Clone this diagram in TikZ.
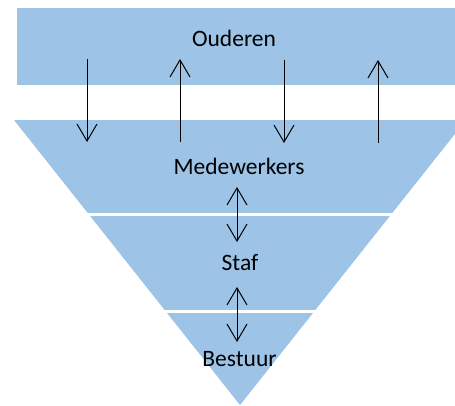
\documentclass[tikz,border=0pt]{standalone}
\usepackage{fontspec}
\setmainfont{Carlito}
\usetikzlibrary{arrows.meta}
\definecolor{laagblauw}{RGB}{157,195,230}

\begin{document}
\begin{tikzpicture}[x=1pt,y=-1pt,line width=1pt]
		\tikzstyle{laag}=[fill=laagblauw,draw=none]
		\tikzstyle{naam}=[anchor=base,inner sep=0pt,font=\fontsize{23.5}{28}\selectfont]
		\tikzstyle{pijl}=[-{Straight Barb[length=17pt,width=20pt,line width=1pt]}]
		\tikzstyle{dubbelpijl}=[{Straight Barb[length=17pt,width=20pt,line width=1pt]}-{Straight Barb[length=17pt,width=20pt,line width=1pt]}]
		\useasboundingbox (0,0) rectangle (455,405);

		% lagen
		\fill[laag] (17,8) rectangle (455,85);
		\begin{scope}
			\clip (0,0) rectangle (455,405);
			\fill[laag] (14,120) -- (466,120) -- (240,405) -- cycle;
		\end{scope}
		\draw[white,line width=3pt] (0,214.5) -- (455,214.5);
		\draw[white,line width=3pt] (0,311.5) -- (455,311.5);

		% teksten
		\node[naam](ouderen) at (234,46.7){Ouderen};
		\node[naam](medewerkers) at (239,174){Medewerkers};
		\node[naam](staf) at (240,270.7){Staf};
		\node[naam](bestuur) at (239.5,366.7){Bestuur};

		% pijlen tussen ouderen en medewerkers
		\coordinate (o1) at (87,59);  \coordinate (m1) at (87,142);
		\coordinate (o2) at (180,59); \coordinate (m2) at (180,142);
		\coordinate (o3) at (284,60); \coordinate (m3) at (284,143);
		\coordinate (o4) at (378,60); \coordinate (m4) at (378,143);
		\draw[pijl] (o1) -- (m1);
		\draw[pijl] (m2) -- (o2);
		\draw[pijl] (o3) -- (m3);
		\draw[pijl] (m4) -- (o4);

		% pijlen tussen de lagen
		\coordinate (ms) at (237,187); \coordinate (sm) at (237,242);
		\coordinate (sb) at (237,287); \coordinate (bs) at (237,342);
		\draw[dubbelpijl] (ms) -- (sm);
		\draw[dubbelpijl] (sb) -- (bs);
	\end{tikzpicture}
\end{document}
